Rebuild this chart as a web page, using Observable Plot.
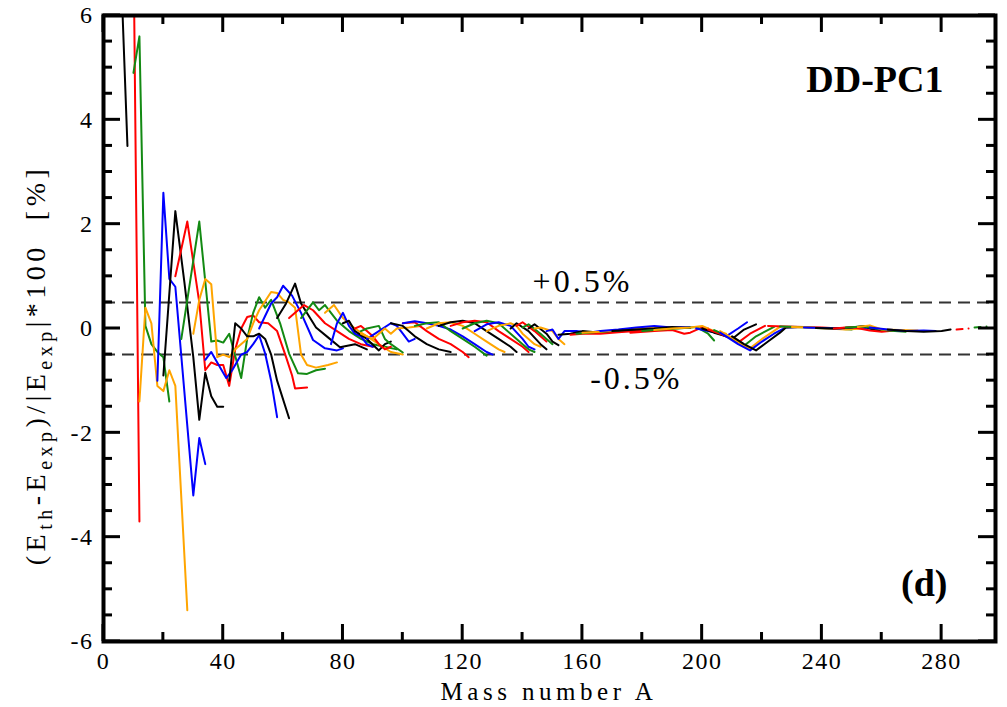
<!DOCTYPE html>
<html>
<head>
<meta charset="utf-8">
<script src="https://cdn.jsdelivr.net/npm/d3@7"></script>
<script src="https://cdn.jsdelivr.net/npm/@observablehq/plot@0.6"></script>
<style>
  html, body { margin: 0; padding: 0; background: #fff; }
  #chart svg { display: block; }
  #chart svg text { font-family: "Liberation Serif", serif; }
  g[aria-label="x-axis tick label"] text,
  g[aria-label="y-axis tick label"] text { letter-spacing: 1.5px; }
  g.band-label text { letter-spacing: 3px; }
</style>
</head>
<body>
<div id="chart"></div>
<script>
// Mass numbers of each isotopic chain (one inner list per chain)
const chainMass = [
  [6, 8],
  [10, 12],
  [10, 12, 14, 16, 18, 20, 22],
  [12, 14, 16, 18, 20, 22, 24, 28],
  [18, 20, 22, 24, 30, 32, 34],
  [20, 24, 27, 30, 32, 34, 36, 38, 40],
  [24, 28, 32, 34, 36, 38, 40, 42, 44, 46, 48, 50, 52, 55, 58, 61, 63, 64, 68],
  [26, 32, 36, 38, 40, 42, 46, 48, 50, 52, 54, 56, 59, 62, 65, 68, 71, 74],
  [30, 32, 34, 36, 38, 40, 42, 44, 48, 50, 52, 56, 58, 60, 62, 64, 66, 68, 71, 75, 78],
  [34, 36, 38, 41, 43, 46, 48, 50, 52, 54, 56, 58],
  [42, 44, 46, 48, 50, 52, 54, 56, 58, 62],
  [52, 56, 58, 60, 63, 66, 70, 74, 78, 80],
  [58, 61, 64, 66, 71, 75, 79, 84, 88],
  [62, 64, 67, 70, 74, 78, 82, 86, 90],
  [66, 70, 72, 74, 78, 82, 86, 90, 94, 98],
  [74, 77, 80, 84, 88, 92, 96, 100],
  [76, 78, 80, 82, 84, 86, 88, 90],
  [80, 82, 84, 88, 92, 94, 96],
  [84, 86, 88, 90, 92, 94, 96],
  [86, 88, 92, 94, 96, 100],
  [88, 92, 96, 98, 100, 102, 104],
  [86, 90, 94, 96, 98, 102, 106],
  [96, 100, 104, 108, 112, 116],
  [100, 104, 108, 112, 116, 120, 122],
  [100, 104, 108, 112, 116, 120, 124, 128, 130],
  [104, 108, 112, 116, 120, 124, 128],
  [108, 112, 116, 120, 124, 128, 132, 134],
  [112, 116, 120, 124, 128, 132, 136, 138],
  [116, 120, 124, 128, 132, 136, 140, 142],
  [120, 124, 128, 132, 136, 140, 142, 144],
  [124, 128, 132, 136, 140, 142, 144],
  [128, 132, 136, 138, 140, 144, 146],
  [136, 138, 142, 146, 148],
  [138, 140, 144, 148],
  [140, 142, 146, 150],
  [142, 144, 148, 150, 152],
  [144, 146, 150, 152, 154],
  [148, 150, 152, 154, 158, 162, 166, 170],
  [152, 156, 160, 166, 172, 178],
  [156, 160, 166, 172, 178, 184],
  [158, 164, 170, 176, 182, 188],
  [160, 166, 172, 178, 184, 190],
  [166, 172, 178, 184, 190, 196],
  [170, 178, 184, 190, 196],
  [176, 184, 190, 194, 196, 200, 202],
  [180, 186, 192, 198, 202, 204],
  [184, 190, 196, 200, 204, 208],
  [198, 202, 206, 208, 212, 215],
  [200, 204, 208, 210, 214, 218],
  [202, 206, 210, 212, 216, 221],
  [204, 208, 212, 214, 218, 224],
  [206, 210, 214, 216, 220, 226],
  [206, 208, 212, 216, 220, 224, 228, 232],
  [210, 214, 218, 222, 226, 228, 234],
  [222, 228, 234, 240, 246],
  [226, 232, 238, 244, 250],
  [230, 236, 242, 248, 254],
  [234, 240, 246, 252, 258, 262],
  [238, 244, 250, 254, 258, 264],
  [244, 250, 256, 260, 266],
  [248, 254, 258, 262, 268],
  [252, 256, 260, 266, 272],
  [256, 262, 268, 274, 278],
  [262, 268, 274, 280, 283]
];

// Relative deviation (E_th - E_exp)/|E_exp| * 100 for each point of each chain
const chainDev = [
  [6.6, 3.5],
  [7.5, -3.7],
  [4.9, 5.6, 0.05, -0.3, -0.45, -0.55, -1.4],
  [-1.4, 0.4, 0.1, -1.1, -1.2, -0.8, -1.1, -5.4],
  [-1.0, 2.6, 0.95, 0.8, -3.2, -2.1, -2.6],
  [-0.9, 2.25, 0.9, -0.55, -1.75, -0.85, -1.3, -1.5, -1.5],
  [1.0, 2.05, 0.5, -0.8, -0.65, -0.7, -0.7, -1.1, -0.4, 0.0, 0.22, 0.25, 0.12, 0.1, -0.05, -0.55, -0.9, -1.15, -1.13],
  [-0.2, 2.05, -0.25, -0.23, -0.27, -0.1, -0.95, -0.2, 0.3, 0.6, 0.4, 0.55, 0.1, -0.48, -0.86, -0.87, -0.8, -0.77],
  [-0.1, 0.55, 0.95, 0.85, -0.55, -0.5, -0.55, -0.4, -0.2, 0.1, 0.35, 0.7, 0.68, 0.55, 0.5, 0.4, -0.5, -0.7, -0.75, -0.7, -0.65],
  [-0.6, -0.45, -0.65, -0.95, -0.8, -0.5, -0.45, -0.3, -0.13, -0.48, -1.0, -1.7],
  [-1.0, 0.1, 0.0, -0.15, -0.15, -0.1, -0.2, -0.5, -1.0, -1.72],
  [0.0, 0.48, 0.6, 0.82, 0.63, 0.3, -0.22, -0.38, -0.42, -0.38],
  [0.2, 0.48, 0.86, 0.48, 0.02, -0.17, -0.36, -0.3, -0.4],
  [0.2, 0.3, 0.45, 0.35, 0.1, -0.05, -0.2, -0.3, -0.35],
  [0.2, 0.5, 0.35, 0.45, 0.15, -0.05, -0.2, -0.3, -0.35, -0.4],
  [0.3, 0.45, 0.2, 0.0, -0.15, -0.3, -0.45, -0.5],
  [-0.3, 0.1, 0.3, 0.05, -0.1, -0.15, -0.3, -0.35],
  [0.1, 0.15, -0.05, -0.2, -0.42, -0.3, -0.25],
  [0.0, 0.05, -0.05, -0.15, -0.3, -0.4, -0.35],
  [-0.05, 0.0, 0.05, -0.2, -0.3, -0.46],
  [-0.2, -0.05, 0.1, 0.05, -0.1, -0.25, -0.2],
  [-0.1, -0.2, 0.0, -0.1, 0.0, 0.02, 0.05],
  [0.1, 0.05, -0.15, -0.3, -0.4, -0.45],
  [0.1, 0.12, -0.05, -0.2, -0.3, -0.45, -0.55],
  [0.1, 0.14, 0.1, 0.05, -0.02, -0.15, -0.3, -0.45, -0.5],
  [0.05, 0.1, 0.12, -0.05, -0.2, -0.35, -0.52],
  [0.0, 0.1, 0.12, 0.05, -0.1, -0.25, -0.4, -0.45],
  [0.05, 0.12, 0.15, 0.1, -0.05, -0.2, -0.35, -0.45],
  [0.05, 0.12, 0.15, 0.12, -0.05, -0.2, -0.35, -0.45],
  [0.0, 0.1, 0.15, 0.1, -0.1, -0.3, -0.4, -0.45],
  [-0.05, 0.08, 0.12, 0.05, -0.2, -0.35, -0.4],
  [-0.05, 0.05, 0.1, 0.05, -0.1, -0.3, -0.35],
  [0.0, 0.1, -0.05, -0.3, -0.4],
  [0.05, 0.12, -0.05, -0.25],
  [0.02, 0.08, -0.1, -0.3],
  [0.0, 0.08, -0.1, -0.25, -0.32],
  [0.0, 0.02, -0.05, -0.2, -0.3],
  [-0.05, -0.02, -0.2, -0.05, -0.05, -0.08, -0.05, -0.05],
  [-0.12, -0.1, -0.05, -0.08, -0.05, -0.05],
  [-0.12, -0.1, -0.1, -0.07, -0.05, -0.03],
  [-0.1, -0.07, -0.05, -0.02, 0.0, 0.0],
  [-0.08, -0.06, -0.03, 0.0, 0.02, 0.02],
  [-0.05, -0.02, 0.02, 0.05, 0.02, 0.03],
  [-0.05, -0.02, 0.0, 0.03, 0.01],
  [-0.08, -0.05, -0.03, -0.1, -0.08, 0.02, 0.0],
  [-0.05, -0.02, 0.0, 0.03, -0.1, -0.23],
  [-0.03, 0.0, 0.02, 0.05, -0.05, -0.1],
  [0.0, -0.05, -0.1, -0.15, 0.0, 0.12],
  [0.0, -0.08, -0.15, -0.2, -0.02, 0.08],
  [-0.02, -0.1, -0.2, -0.27, -0.1, 0.05],
  [-0.03, -0.13, -0.25, -0.33, -0.15, 0.03],
  [-0.05, -0.18, -0.33, -0.38, -0.2, 0.03],
  [-0.08, -0.15, -0.3, -0.42, -0.25, -0.1, 0.02, 0.03],
  [-0.15, -0.3, -0.42, -0.25, -0.08, 0.02, 0.03],
  [0.05, 0.04, 0.03, 0.02, 0.0],
  [0.04, 0.03, 0.01, 0.0, -0.02],
  [0.03, 0.02, 0.0, -0.02, 0.0],
  [0.02, 0.01, 0.0, 0.03, -0.02, -0.03],
  [0.01, 0.0, 0.02, 0.05, -0.04, -0.03],
  [0.0, 0.03, -0.04, -0.06, -0.03],
  [0.02, 0.04, 0.0, -0.04, -0.06],
  [0.03, 0.06, -0.02, -0.03, -0.04],
  [0.02, -0.02, -0.05, -0.04, -0.05],
  [-0.02, -0.05, -0.06, -0.05, -0.02]
];

// Line colour of each chain
const chainColor = [
  "black", "red", "green", "orange", "blue", "black", "red", "green", "orange", "blue",
  "black", "blue", "black", "red", "green", "orange", "blue", "black", "red", "green",
  "blue", "orange", "black", "red", "blue", "green", "orange", "black", "red", "green",
  "blue", "orange", "black", "red", "green", "black", "orange", "blue", "black", "red",
  "green", "orange", "blue", "black", "red", "green", "orange", "blue", "black", "red",
  "green", "orange", "blue", "black", "red", "green", "orange", "blue", "black", "red",
  "green", "orange", "blue", "black"
];

// Heaviest chains, drawn dashed
const tailMass = [[285, 289], [291, 295]];
const tailDev = [[-0.02, 0.0], [0.02, 0.04]];
const tailColor = ["red", "green"];

// Axis ticks
const xMajor = [0, 40, 80, 120, 160, 200, 240, 280];
const xMinor = [20, 60, 100, 140, 180, 220, 260];
const yMajor = [-6, -4, -2, 0, 2, 4, 6];
const yMinor = [-5.5, -5, -4.5, -3.5, -3, -2.5, -1.5, -1, -0.5, 0.5, 1, 1.5, 2.5, 3, 3.5, 4.5, 5, 5.5];

// ±0.5 % reference band
const bandLimits = [0.5, -0.5];
const bandLabels = ["+0.5%", "-0.5%"];

const palette = {black: "#000000", red: "#ff0000", green: "#138a13", blue: "#0000ff", orange: "#ffa500"};

const toRows = (masses, devs, colors) =>
  masses.flatMap((ms, i) => ms.map((A, j) => ({chain: i, A, dev: devs[i][j], color: palette[colors[i]]})));
const rows = toRows(chainMass, chainDev, chainColor);
const tailRows = toRows(tailMass, tailDev, tailColor);

const W = 1007, H = 707;
const mTop = 15, mBottom = 66, mLeft = 103, mRight = 12;
const innerW = W - mLeft - mRight, innerH = H - mTop - mBottom;
const xDomain = [0, 298], yDomain = [-6, 6];
const majorLen = 17, minorLen = 9, tickWidth = 3;
const serif = "Liberation Serif";

// pixel lengths converted to data units of each scale
const dX = (px) => px * (xDomain[1] - xDomain[0]) / innerW;
const dY = (px) => px * (yDomain[1] - yDomain[0]) / innerH;

// inward ticks on all four sides of the frame, drawn as small filled bars
const xTicks = (values, len) => [
  Plot.rect(values, {x1: d => d - dX(tickWidth / 2), x2: d => d + dX(tickWidth / 2),
    y1: () => yDomain[0], y2: () => yDomain[0] + dY(len), fill: "#000"}),
  Plot.rect(values, {x1: d => d - dX(tickWidth / 2), x2: d => d + dX(tickWidth / 2),
    y1: () => yDomain[1] - dY(len), y2: () => yDomain[1], fill: "#000"})
];
const yTicks = (values, len) => [
  Plot.rect(values, {y1: d => d - dY(tickWidth / 2), y2: d => d + dY(tickWidth / 2),
    x1: () => xDomain[0], x2: () => xDomain[0] + dX(len), fill: "#000"}),
  Plot.rect(values, {y1: d => d - dY(tickWidth / 2), y2: d => d + dY(tickWidth / 2),
    x1: () => xDomain[1] - dX(len), x2: () => xDomain[1], fill: "#000"})
];

const chart = Plot.plot({
  width: W,
  height: H,
  marginTop: mTop,
  marginBottom: mBottom,
  marginLeft: mLeft,
  marginRight: mRight,
  x: {domain: xDomain, label: null},
  y: {domain: yDomain, label: null},
  color: {type: "identity"},
  style: {fontFamily: serif, fontSize: "24px", color: "#000", background: "#fff"},
  marks: [
    Plot.ruleY(bandLimits, {y: d => d, stroke: "#333", strokeWidth: 2, strokeDasharray: "12,7"}),
    Plot.line(rows, {x: "A", y: "dev", z: "chain", stroke: "color", strokeWidth: 2, clip: true}),
    Plot.line(tailRows, {x: "A", y: "dev", z: "chain", stroke: "color", strokeWidth: 2, strokeDasharray: "6,6"}),
    ...xTicks(xMajor, majorLen),
    ...xTicks(xMinor, minorLen),
    ...yTicks(yMajor, majorLen),
    ...yTicks(yMinor, minorLen),
    Plot.frame({stroke: "#000", strokeWidth: 4}),
    Plot.axisX({ticks: xMajor, tickSize: 0, tickPadding: 10, tickFormat: d => String(d), fontSize: 24, fontFamily: serif}),
    Plot.axisY({ticks: yMajor, tickSize: 0, tickPadding: 10, tickFormat: d => String(d), fontSize: 24, fontFamily: serif}),
    Plot.text([bandLabels[0]], {x: 160, y: bandLimits[0], dy: -10, lineAnchor: "bottom", fontSize: 32, fontFamily: serif}),
    Plot.text([bandLabels[1]], {x: 178, y: bandLimits[1], dy: 12, lineAnchor: "top", fontSize: 32, fontFamily: serif}),
    Plot.text(["DD-PC1"], {frameAnchor: "top-right", dx: -52, dy: 50, fontSize: 38, fontWeight: "bold", fontFamily: serif}),
    Plot.text(["(d)"], {frameAnchor: "bottom-right", dx: -48, dy: -46, fontSize: 38, fontWeight: "bold", fontFamily: serif})
  ]
});

const svg = d3.select(chart);
svg.selectAll('g[aria-label="text"]').filter((d, i) => i < 2).classed("band-label", true);

// x-axis title
svg.append("text")
  .attr("x", mLeft + innerW / 2)
  .attr("y", H - 7)
  .attr("text-anchor", "middle")
  .attr("font-family", serif)
  .attr("font-size", 25)
  .attr("letter-spacing", "4.5px")
  .text("Mass number A");

// y-axis title with subscripts
const yTitle = svg.append("text")
  .attr("transform", "translate(45, 365) rotate(-90)")
  .attr("text-anchor", "middle")
  .attr("font-family", serif)
  .attr("font-size", 28)
  .attr("letter-spacing", "4.5px");
const parts = [
  ["(E", 0], ["th", 1], ["-E", 0], ["exp", 1], [")/|E", 0], ["exp", 1], ["|*100  [%]", 0]
];
let shifted = false;
for (const [t, sub] of parts) {
  const ts = yTitle.append("tspan").text(t).attr("xml:space", "preserve");
  if (sub && !shifted) { ts.attr("dy", 7).attr("font-size", 20); shifted = true; }
  else if (!sub && shifted) { ts.attr("dy", -7); shifted = false; }
  else if (sub) ts.attr("font-size", 20);
}

document.getElementById("chart").appendChild(chart);
</script>
</body>
</html>
